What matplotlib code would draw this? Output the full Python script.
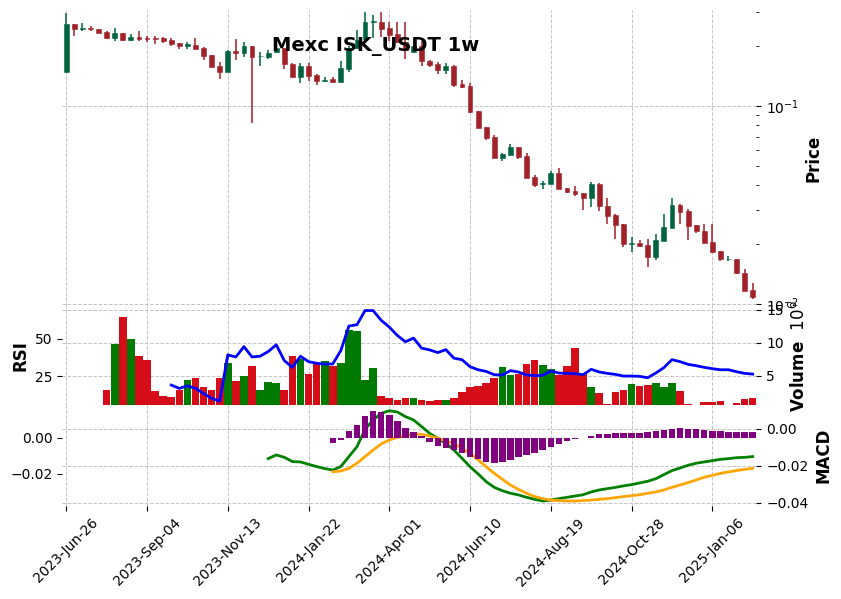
import matplotlib
matplotlib.use('Agg')
import matplotlib.pyplot as plt
import matplotlib.ticker as mticker
import numpy as np
import pandas as pd

# weekly candles, Mexc ISK_USDT
dates = pd.date_range('2023-06-26', periods=86, freq='7D')

opens = [0.149, 0.2596, 0.2450, 0.2478, 0.2443, 0.2365, 0.2214, 0.2338, 0.2155, 0.2232,
         0.2214, 0.2206, 0.2206, 0.2155, 0.2080, 0.2020, 0.2040, 0.1964, 0.1811, 0.1593,
         0.1480, 0.1897, 0.1860, 0.2010, 0.1785, 0.1775, 0.1870, 0.1955, 0.1631, 0.1407,
         0.1593, 0.1440, 0.1343, 0.1361, 0.1328, 0.1531, 0.1964, 0.2170, 0.2657, 0.2657,
         0.2478, 0.2311, 0.2106, 0.1875, 0.2010, 0.1695, 0.1631, 0.1527, 0.1593, 0.1292,
         0.1263, 0.0943, 0.0783, 0.0697, 0.0548, 0.0566, 0.0622, 0.0559, 0.0440, 0.0404,
         0.0404, 0.0459, 0.0385, 0.0373, 0.0363, 0.0343, 0.0403, 0.0313, 0.0283, 0.0253,
         0.0202, 0.0204, 0.0199, 0.0172, 0.0209, 0.0243, 0.0317, 0.0296, 0.0251, 0.0234,
         0.0205, 0.0186, 0.0168, 0.0168, 0.0143, 0.0118]
highs = [0.296, 0.2600, 0.2617, 0.2527, 0.2450, 0.2393, 0.2478, 0.2338, 0.2311, 0.2393,
         0.2258, 0.2258, 0.2232, 0.2206, 0.2080, 0.2100, 0.2200, 0.1987, 0.1811, 0.1662,
         0.1925, 0.2170, 0.2106, 0.2010, 0.1870, 0.1919, 0.2010, 0.1964, 0.1640, 0.1655,
         0.1650, 0.1452, 0.1397, 0.1397, 0.1695, 0.2010, 0.2421, 0.2980, 0.2866, 0.2990,
         0.2666, 0.2666, 0.2666, 0.2050, 0.2118, 0.1708, 0.1675, 0.1655, 0.1612, 0.1354,
         0.1300, 0.0948, 0.0783, 0.0714, 0.0580, 0.0642, 0.0622, 0.0578, 0.0446, 0.0417,
         0.0471, 0.0486, 0.0385, 0.0395, 0.0363, 0.0412, 0.0407, 0.0344, 0.0286, 0.0255,
         0.0219, 0.0211, 0.0213, 0.0226, 0.0285, 0.0342, 0.0320, 0.0303, 0.0251, 0.0253,
         0.0255, 0.0186, 0.0174, 0.0169, 0.0150, 0.0128]
lows = [0.148, 0.2265, 0.2402, 0.2402, 0.2340, 0.2188, 0.2138, 0.2118, 0.2138, 0.2138,
        0.2106, 0.2050, 0.2074, 0.2003, 0.1948, 0.1948, 0.1941, 0.1708, 0.1580, 0.1375,
        0.1480, 0.1715, 0.1775, 0.0818, 0.1593, 0.1720, 0.1860, 0.1545, 0.1400, 0.1302,
        0.1338, 0.1273, 0.1323, 0.1302, 0.1328, 0.1480, 0.1940, 0.2106, 0.2200, 0.2220,
        0.2118, 0.2080, 0.1723, 0.1860, 0.1593, 0.1580, 0.1452, 0.1452, 0.1243, 0.1228,
        0.0918, 0.0772, 0.0675, 0.0548, 0.0530, 0.0566, 0.0538, 0.0435, 0.0391, 0.0381,
        0.0404, 0.0383, 0.0363, 0.0352, 0.0297, 0.0310, 0.0294, 0.0253, 0.0212, 0.0194,
        0.0184, 0.0194, 0.0154, 0.0166, 0.0209, 0.0243, 0.0255, 0.0210, 0.0229, 0.0203,
        0.0182, 0.0165, 0.0165, 0.0142, 0.0116, 0.0106]
closes = [0.2596, 0.2450, 0.2478, 0.2443, 0.2346, 0.2214, 0.2338, 0.2155, 0.2232, 0.2180,
          0.2188, 0.2188, 0.2130, 0.2057, 0.2010, 0.2050, 0.1941, 0.1796, 0.1580, 0.1480,
          0.1903, 0.1860, 0.2010, 0.1775, 0.1790, 0.1860, 0.1955, 0.1636, 0.1407, 0.1593,
          0.1418, 0.1343, 0.1356, 0.1323, 0.1550, 0.1964, 0.2155, 0.2657, 0.2680, 0.2450,
          0.2293, 0.2106, 0.1919, 0.2010, 0.1680, 0.1612, 0.1527, 0.1593, 0.1277, 0.1253,
          0.0934, 0.0777, 0.0691, 0.0548, 0.0572, 0.0622, 0.0554, 0.0435, 0.0399, 0.0408,
          0.0459, 0.0383, 0.0368, 0.0360, 0.0343, 0.0403, 0.0311, 0.0277, 0.0252, 0.0202,
          0.0204, 0.0197, 0.0172, 0.0211, 0.0245, 0.0316, 0.0293, 0.0248, 0.0234, 0.0204,
          0.0183, 0.0169, 0.0169, 0.0143, 0.0116, 0.0109]

# volume in millions
volumes = [0.55, 0, 0, 0, 0, 2.8, 9.8, 13.9, 10.5, 7.95,
           7.35, 2.7, 1.9, 1.75, 2.8, 4.3, 4.7, 3.2, 2.8, 4.6,
           6.9, 4.2, 4.9, 6.4, 2.8, 4.0, 3.85, 2.8, 7.95, 7.45,
           5.2, 6.85, 7.2, 6.5, 6.95, 11.9, 11.7, 4.3, 6.1, 1.9,
           1.6, 1.3, 1.6, 1.6, 1.3, 1.2, 1.3, 1.3, 1.6, 2.5,
           3.25, 3.4, 3.85, 4.6, 6.3, 5.1, 5.2, 6.7, 7.35, 6.6,
           6.0, 5.1, 6.4, 9.2, 5.2, 3.25, 2.35, 0.7, 2.5, 2.8,
           3.7, 3.4, 3.55, 3.85, 3.25, 3.85, 2.65, 0.7, 0.5, 1.0,
           1.0, 1.15, 0.5, 0.85, 1.45, 1.6]

nan = np.nan
rsi = [nan] * 13 + [19.2, 17.0, 18.7, 17.0, 13.6, 10.3, 8.6,
       39.3, 37.9, 44.8, 37.9, 38.4, 41.5, 46.0, 35.5, 31.0, 38.4,
       34.8, 33.7, 33.2, 33.2, 42.2, 58.5, 59.4, 68.8, 68.8, 62.3,
       57.8, 52.2, 48.0, 50.5, 43.8, 42.6, 40.8, 42.8, 37.1, 36.1,
       31.4, 29.4, 28.3, 26.1, 25.9, 28.8, 27.9, 25.9, 25.4, 25.7,
       28.6, 27.2, 27.0, 26.8, 26.1, 29.7, 27.9, 27.0, 26.3, 25.2,
       25.2, 25.0, 24.1, 27.2, 30.8, 36.1, 34.8, 33.0, 32.1, 31.0,
       30.1, 29.4, 29.4, 28.1, 27.0, 26.5]

macd = [nan] * 25 + [-0.0161, -0.0141, -0.0154, -0.0177, -0.0179,
        -0.0192, -0.0204, -0.0215, -0.0223, -0.0204, -0.0150, -0.0096, -0.0002, 0.0049, 0.0085,
        0.0099, 0.0092, 0.0067, 0.0049, 0.0013, -0.0024, -0.0051, -0.0078, -0.0114, -0.0159,
        -0.0205, -0.0244, -0.0286, -0.0317, -0.0335, -0.0349, -0.0358, -0.0371, -0.0382, -0.0391,
        -0.0386, -0.0378, -0.0371, -0.0364, -0.0357, -0.0342, -0.0331, -0.0324, -0.0317, -0.0309,
        -0.0302, -0.0293, -0.0284, -0.0270, -0.0248, -0.0226, -0.0212, -0.0197, -0.0186, -0.0179,
        -0.0172, -0.0165, -0.0161, -0.0156, -0.0154, -0.0150]
signal = [nan] * 33 + [-0.0232, -0.0228, -0.0214, -0.0186, -0.0150, -0.0114, -0.0081,
          -0.0060, -0.0045, -0.0038, -0.0027, -0.0029, -0.0038, -0.0051, -0.0063, -0.0081, -0.0105,
          -0.0132, -0.0168, -0.0205, -0.0241, -0.0273, -0.0304, -0.0328, -0.0349, -0.0367, -0.0378,
          -0.0386, -0.0389, -0.0391, -0.0391, -0.0389, -0.0386, -0.0382, -0.0378, -0.0373, -0.0367,
          -0.0362, -0.0357, -0.0349, -0.0342, -0.0331, -0.0317, -0.0304, -0.0291, -0.0277, -0.0262,
          -0.0252, -0.0241, -0.0233, -0.0226, -0.0219, -0.0214]
hist = [nan] * 33 + [-0.0028, -0.0013, 0.0037, 0.0070, 0.0120, 0.0145, 0.0140,
        0.0125, 0.0092, 0.0052, 0.0033, 0.0009, -0.0022, -0.0046, -0.0055, -0.0068, -0.0083,
        -0.0105, -0.0119, -0.0132, -0.0138, -0.0132, -0.0123, -0.0105, -0.0095, -0.0083, -0.0068,
        -0.0050, -0.0037, -0.0020, -0.0009, -0.0003, 0.0011, 0.0018, 0.0022, 0.0024, 0.0026,
        0.0028, 0.0028, 0.0029, 0.0035, 0.0042, 0.0050, 0.0053, 0.0050, 0.0046, 0.0042,
        0.0039, 0.0035, 0.0033, 0.0031, 0.0031, 0.0029]

UP, DOWN = '#006340', '#a02128'
VUP, VDOWN = '#007a00', '#d50d18'
GRID = dict(color='#c4c4c4', linestyle='--', linewidth=0.7)


def clean(ax):
    for s in ax.spines.values():
        s.set_visible(False)


def main():
    x = np.arange(len(opens))
    o, h, l, c = map(np.asarray, (opens, highs, lows, closes))
    up = c >= o

    fig = plt.figure(figsize=(8.41, 5.99), dpi=100)
    left, width = 0.0743, 0.8252
    ax_p = fig.add_axes([left, 0.4891, width, 0.4942])
    ax_v = fig.add_axes([left, 0.3230, width, 0.1661], sharex=ax_p)
    ax_m = fig.add_axes([left, 0.1553, width, 0.1678], sharex=ax_p)

    # price panel
    ax_p.set_yscale('log')
    ax_p.vlines(x, l, h, colors=np.where(up, UP, DOWN), linewidth=1.1)
    ax_p.bar(x, np.abs(c - o), bottom=np.minimum(o, c), width=0.6,
             color=np.where(up, UP, DOWN), edgecolor=np.where(up, UP, DOWN), linewidth=0.4)
    ax_p.set_ylim(0.00977, 0.3053)
    ax_p.yaxis.tick_right()
    ax_p.yaxis.set_label_position('right')
    ax_p.yaxis.set_minor_formatter(mticker.NullFormatter())
    ax_p.set_ylabel('Price', fontsize=12, fontweight='bold')
    ax_p.grid(True, which='major', **GRID)
    ax_p.tick_params(axis='x', bottom=False, labelbottom=False)
    ax_p.set_axisbelow(True)

    # volume + RSI panel
    ax_r = ax_v.twinx()
    ax_v.bar(x, volumes, width=0.95, color=np.where(up, VUP, VDOWN), linewidth=0)
    ax_v.set_ylim(0.45, 15.55)
    ax_v.yaxis.tick_right()
    ax_v.yaxis.set_label_position('right')
    ax_v.yaxis.set_major_locator(mticker.MultipleLocator(5))
    ax_v.set_ylabel('Volume  $10^{6}$', fontsize=12, fontweight='bold')
    ax_v.grid(True, **GRID)
    ax_v.set_axisbelow(True)
    ax_v.tick_params(axis='x', bottom=False, labelbottom=False)

    ax_r.plot(x, rsi, color='blue', linewidth=2.0)
    ax_r.yaxis.tick_left()
    ax_r.yaxis.set_label_position('left')
    ax_r.yaxis.set_major_locator(mticker.MultipleLocator(25))
    ax_r.set_ylabel('RSI', fontsize=12, fontweight='bold')

    # MACD panel
    ax_h = ax_m.twinx()
    ax_m.plot(x, macd, color='green', linewidth=2.0)
    ax_m.plot(x, signal, color='orange', linewidth=2.0)
    ax_m.set_ylim(-0.0418, 0.01276)
    ax_m.yaxis.tick_right()
    ax_m.yaxis.set_label_position('right')
    ax_m.yaxis.set_major_locator(mticker.MultipleLocator(0.02))
    ax_m.set_ylabel('MACD', fontsize=12, fontweight='bold')
    ax_m.grid(True, **GRID)
    ax_m.set_axisbelow(True)

    ax_h.bar(x, hist, width=0.8, color='purple', linewidth=0)
    ax_h.set_ylim(-0.0376, 0.0177)
    ax_h.yaxis.tick_left()
    ax_h.yaxis.set_major_locator(mticker.MultipleLocator(0.02))

    ticks = list(range(0, len(dates), 10))
    ax_m.set_xticks(ticks)
    ax_m.set_xticklabels([dates[i].strftime('%Y-%b-%d') for i in ticks], rotation=45)
    ax_m.set_xlim(-0.47, 85.47)

    for ax in (ax_p, ax_v, ax_r, ax_m, ax_h):
        clean(ax)
        ax.tick_params(labelsize=10)

    fig.text(376 / 841, 1 - 46 / 599, 'Mexc ISK_USDT 1w', ha='center', va='center',
             fontsize=14, fontweight='bold')
    fig.savefig('out.png', dpi=100)


if __name__ == '__main__':
    main()
